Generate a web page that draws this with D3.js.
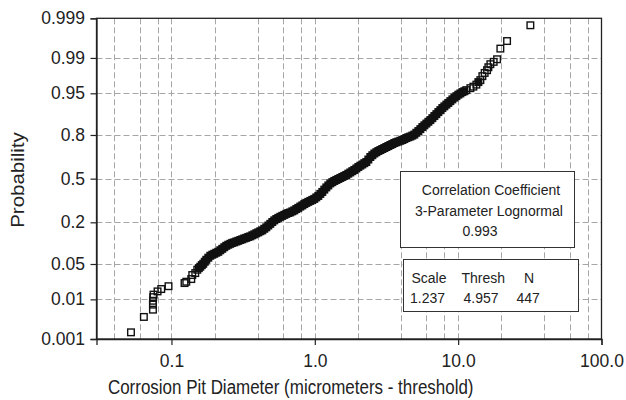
<!DOCTYPE html>
<html>
<head>
<meta charset="utf-8">
<script src="https://cdn.jsdelivr.net/npm/d3@7"></script>
<style>
  body { margin: 0; background: #fff; }
  text { font-family: "Liberation Sans", Arial, sans-serif; fill: #222; }
</style>
</head>
<body>
<svg id="chart" width="626" height="400"></svg>
<script>
"use strict";

// pit diameters (micrometers - threshold), sorted
const diameters = [
  // lower tail
  0.0522, 0.0642, 0.0743, 0.0743, 0.0743, 0.0746, 0.0750, 0.0800, 0.0849, 0.0954,
  0.1234, 0.1269, 0.1375, 0.1397, 0.1466,
  // dense band
  0.1514, 0.1551, 0.1589, 0.1628, 0.1667, 0.1708, 0.1750, 0.1807, 0.1866, 0.1927,
  0.1989, 0.2054, 0.2122, 0.2191, 0.2262, 0.2336, 0.2412, 0.2491, 0.2572, 0.2656,
  0.2743, 0.2833, 0.2925, 0.3021, 0.3119, 0.3221, 0.3327, 0.3436, 0.3548, 0.3664,
  0.3783, 0.3907, 0.4035, 0.4167, 0.4302, 0.4443, 0.4587, 0.4737, 0.4892, 0.5052,
  0.5218, 0.5389, 0.5562, 0.5744, 0.5932, 0.6126, 0.6327, 0.6534, 0.6746, 0.6967,
  0.7194, 0.7429, 0.7672, 0.7923, 0.8181, 0.8449, 0.8724, 0.9009, 0.9302, 0.9606,
  0.9920, 1.024, 1.058, 1.093, 1.128, 1.165, 1.203, 1.242, 1.283, 1.325,
  1.368, 1.413, 1.459, 1.507, 1.556, 1.607, 1.659, 1.713, 1.769, 1.827,
  1.887, 1.949, 2.012, 2.078, 2.145, 2.215, 2.288, 2.363, 2.440, 2.520,
  2.602, 2.687, 2.775, 2.866, 2.958, 3.055, 3.155, 3.258, 3.365, 3.475,
  3.588, 3.705, 3.826, 3.951, 4.080, 4.213, 4.350, 4.492, 4.639, 4.791,
  4.947, 5.109, 5.277, 5.450, 5.627, 5.811, 6.001, 6.197, 6.397, 6.606,
  6.823, 7.046, 7.275, 7.513, 7.757, 8.011, 8.275, 8.546, 8.824, 9.113,
  9.409, 9.717, 10.03, 10.36, 10.70, 11.05, 11.41,
  // upper tail
  12.17, 12.77, 13.40, 13.84, 14.29, 14.76, 15.31, 15.91, 16.25, 16.78,
  17.69, 18.69, 19.70, 21.94, 31.90
];

// cumulative probability of each point
const probabilities = [
  0.00153, 0.00385, 0.00579, 0.0076, 0.0093, 0.0112, 0.0127, 0.0149, 0.0167, 0.0191,
  0.0221, 0.0235, 0.0265, 0.0316, 0.0344,
  0.0396, 0.0423, 0.0448, 0.0478, 0.0505, 0.0546, 0.0590, 0.0638, 0.0686, 0.0714,
  0.0738, 0.0767, 0.0793, 0.0838, 0.0882, 0.0931, 0.0978, 0.1014, 0.1046, 0.1078,
  0.1099, 0.1129, 0.1154, 0.1186, 0.1212, 0.1246, 0.1271, 0.1306, 0.1331, 0.1375,
  0.1416, 0.1463, 0.1504, 0.1553, 0.1596, 0.1671, 0.1741, 0.1831, 0.1919, 0.2016,
  0.2107, 0.2182, 0.2248, 0.2310, 0.2366, 0.2426, 0.2486, 0.2540, 0.2578, 0.2643,
  0.2704, 0.2789, 0.2866, 0.2953, 0.3032, 0.3121, 0.3202, 0.3273, 0.3340, 0.3410,
  0.3482, 0.3590, 0.3696, 0.3844, 0.3990, 0.4163, 0.4329, 0.4480, 0.4633, 0.4732,
  0.4824, 0.4900, 0.4977, 0.5054, 0.5130, 0.5207, 0.5284, 0.5383, 0.5475, 0.5573,
  0.5665, 0.5777, 0.5890, 0.5987, 0.6076, 0.6172, 0.6259, 0.6438, 0.6618, 0.6742,
  0.6861, 0.6948, 0.7029, 0.7093, 0.7160, 0.7223, 0.7289, 0.7351, 0.7415, 0.7473,
  0.7540, 0.7586, 0.7627, 0.7673, 0.7716, 0.7771, 0.7831, 0.7875, 0.7915, 0.7967,
  0.8023, 0.8117, 0.8205, 0.8301, 0.8399, 0.8480, 0.8558, 0.8634, 0.8705, 0.8781,
  0.8861, 0.8930, 0.9002, 0.9066, 0.9131, 0.9182, 0.9232, 0.9278, 0.9324, 0.9367,
  0.9408, 0.9440, 0.9473, 0.9497, 0.9523, 0.9540, 0.9560,
  0.9594, 0.9619, 0.9650, 0.9686, 0.9712, 0.9759, 0.9792, 0.9817, 0.9841, 0.9863,
  0.9878, 0.9893, 0.9939, 0.9960, 0.99844
];

const xTicks = [0.1, 1, 10, 100];
const xGrid = [0.04, 0.06, 0.08, 0.1, 0.2, 0.4, 0.6, 0.8, 1, 2, 4, 6, 8, 10, 20, 40, 60, 80];
const yTicks = [0.001, 0.01, 0.05, 0.2, 0.5, 0.8, 0.95, 0.99, 0.999];

const fitLines = ["Correlation Coefficient", "3-Parameter Lognormal", "0.993"];
const paramNames = ["Scale", "Thresh", "N"];
const paramValues = ["1.237", "4.957", "447"];

const xTitle = "Corrosion Pit Diameter (micrometers - threshold)";
const yTitle = "Probability";

// inverse normal cdf (Acklam)
function probit(p) {
  const a = [-3.969683028665376e+01, 2.209460984245205e+02, -2.759285104469687e+02,
    1.383577518672690e+02, -3.066479806614716e+01, 2.506628277459239e+00];
  const b = [-5.447609879822406e+01, 1.615858368580409e+02, -1.556989798598866e+02,
    6.680131188771972e+01, -1.328068155288572e+01];
  const c = [-7.784894002430293e-03, -3.223964580411365e-01, -2.400758277161838e+00,
    -2.549732539343734e+00, 4.374664141464968e+00, 2.938163982698783e+00];
  const d = [7.784695709041462e-03, 3.224671290700398e-01, 2.445134137142996e+00,
    3.754408661907416e+00];
  const pl = 0.02425;
  let q, r;
  if (p < pl) {
    q = Math.sqrt(-2 * Math.log(p));
    return (((((c[0] * q + c[1]) * q + c[2]) * q + c[3]) * q + c[4]) * q + c[5]) /
      ((((d[0] * q + d[1]) * q + d[2]) * q + d[3]) * q + 1);
  }
  if (p > 1 - pl) {
    q = Math.sqrt(-2 * Math.log(1 - p));
    return -(((((c[0] * q + c[1]) * q + c[2]) * q + c[3]) * q + c[4]) * q + c[5]) /
      ((((d[0] * q + d[1]) * q + d[2]) * q + d[3]) * q + 1);
  }
  q = p - 0.5;
  r = q * q;
  return (((((a[0] * r + a[1]) * r + a[2]) * r + a[3]) * r + a[4]) * r + a[5]) * q /
    (((((b[0] * r + b[1]) * r + b[2]) * r + b[3]) * r + b[4]) * r + 1);
}

const plotLeft = 96.5, plotRight = 601.5, plotTop = 18.3, plotBottom = 339;

const svg = d3.select("#chart");

const x = d3.scaleLog().domain([0.03, 100]).range([plotLeft, plotRight]);
const z = d3.scaleLinear()
  .domain([probit(0.001), probit(0.999)])
  .range([plotBottom, plotTop]);
const y = (p) => z(probit(p));

// grid
const grid = svg.append("g")
  .attr("stroke", "#a6a6a6")
  .attr("stroke-width", 1)
  .attr("stroke-dasharray", "6,3");

grid.selectAll("line.v")
  .data(xGrid)
  .join("line")
  .attr("class", "v")
  .attr("x1", (d) => Math.round(x(d)) + 0.5)
  .attr("x2", (d) => Math.round(x(d)) + 0.5)
  .attr("y1", plotTop)
  .attr("y2", plotBottom);

grid.selectAll("line.h")
  .data(yTicks.slice(1, -1))
  .join("line")
  .attr("class", "h")
  .attr("x1", plotLeft)
  .attr("x2", plotRight)
  .attr("y1", (d) => Math.round(y(d)) + 0.5)
  .attr("y2", (d) => Math.round(y(d)) + 0.5);

// frame
svg.append("rect")
  .attr("x", plotLeft)
  .attr("y", plotTop)
  .attr("width", plotRight - plotLeft)
  .attr("height", plotBottom - plotTop)
  .attr("fill", "none")
  .attr("stroke", "#222")
  .attr("stroke-width", 1.3);

// axes
const xAxis = d3.axisBottom(x)
  .tickValues(xTicks)
  .tickFormat(d3.format(".1f"))
  .tickSizeOuter(0)
  .tickSize(6)
  .tickPadding(10);

const yAxis = d3.axisLeft(z)
  .tickValues(yTicks.map(probit))
  .tickFormat((d, i) => yTicks[i])
  .tickSizeOuter(0)
  .tickSize(6)
  .tickPadding(5.5);

const gx = svg.append("g").attr("transform", `translate(0,${plotBottom})`).call(xAxis);
const gy = svg.append("g").attr("transform", `translate(${plotLeft},0)`).call(yAxis);

[gx, gy].forEach((g) => {
  g.select(".domain").attr("stroke", "#222").attr("stroke-width", 1.3);
  g.selectAll(".tick line").attr("stroke", "#222").attr("stroke-width", 1.2);
  g.selectAll(".tick text")
    .attr("fill", "#222")
    .style("font-family", '"Liberation Sans", Arial, sans-serif')
    .style("font-size", "17.5px");
});

// points: hollow squares; where markers pile up they read as a solid band
const points = d3.zip(diameters, probabilities).map(([dia, p]) => ({ px: x(dia), py: y(p) }));
points.forEach((a) => {
  a.crowd = points.filter((b) => b !== a && Math.hypot(a.px - b.px, a.py - b.py) < 3.3).length;
});

const s = 6.6;
svg.append("g")
  .selectAll("rect")
  .data(points)
  .join("rect")
  .attr("x", (d) => d.px - s / 2)
  .attr("y", (d) => d.py - s / 2)
  .attr("width", s)
  .attr("height", s)
  .attr("fill", (d) => (d.crowd >= 2 ? "#111" : "none"))
  .attr("stroke", "#111")
  .attr("stroke-width", 1.4);

// fit box
svg.append("rect")
  .attr("x", 400.5).attr("y", 171.5)
  .attr("width", 174).attr("height", 76)
  .attr("fill", "#fff").attr("stroke", "#333").attr("stroke-width", 1);

const fitX = [491, 489, 480];
const fitY = [195, 215.5, 236];
svg.append("g")
  .selectAll("text")
  .data(fitLines)
  .join("text")
  .attr("x", (d, i) => fitX[i])
  .attr("y", (d, i) => fitY[i])
  .attr("text-anchor", "middle")
  .style("font-size", "14px")
  .text((d) => d);

// parameter box
svg.append("rect")
  .attr("x", 403.5).attr("y", 259.5)
  .attr("width", 175).attr("height", 52)
  .attr("fill", "#fff").attr("stroke", "#333").attr("stroke-width", 1);

const colX = [411.5, 461.5, 524];
const valX = [410, 463.5, 516.5];
svg.append("g")
  .selectAll("text")
  .data(paramNames)
  .join("text")
  .attr("x", (d, i) => colX[i])
  .attr("y", 282.5)
  .style("font-size", "14px")
  .text((d) => d);

svg.append("g")
  .selectAll("text")
  .data(paramValues)
  .join("text")
  .attr("x", (d, i) => valX[i])
  .attr("y", 302.5)
  .style("font-size", "14px")
  .text((d) => d);

// titles (slightly condensed, like the original figure)
svg.append("text")
  .attr("transform", "translate(290.7,393.5) scale(0.87,1)")
  .attr("text-anchor", "middle")
  .style("font-size", "19.5px")
  .text(xTitle);

svg.append("text")
  .attr("transform", "translate(24,180) rotate(-90) scale(1,0.87)")
  .attr("text-anchor", "middle")
  .style("font-size", "20.5px")
  .text(yTitle);
</script>
</body>
</html>
